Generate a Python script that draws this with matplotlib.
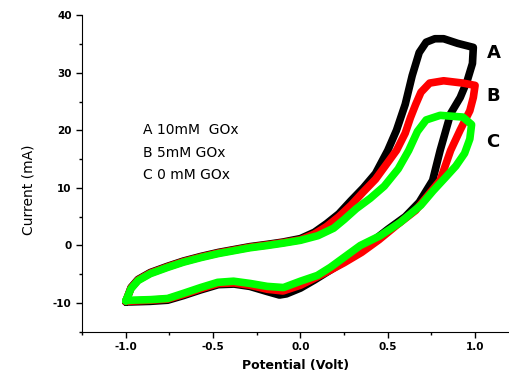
import numpy as np
import matplotlib
matplotlib.use("Agg")
import matplotlib.pyplot as plt
from matplotlib.ticker import MultipleLocator

# loop A, 10 mM GOx (black)
a_x = [-1.0, -0.97, -0.93, -0.86, -0.76, -0.67, -0.57, -0.47, -0.38, -0.29, -0.19, -0.10, 0.0, 0.08, 0.15, 0.22,
       0.29, 0.36, 0.43, 0.50, 0.55, 0.60, 0.64, 0.68, 0.72, 0.77, 0.82, 0.90, 0.99,
       0.985, 0.955, 0.915, 0.86, 0.80, 0.757, 0.68, 0.60, 0.50, 0.42, 0.33, 0.25, 0.17, 0.08, 0.0, -0.08,
       -0.12, -0.19, -0.29, -0.38, -0.47, -0.57, -0.67, -0.76, -0.86, -0.97, -1.0]
a_y = [-9.8, -7.3, -5.9, -4.7, -3.6, -2.7, -1.9, -1.2, -0.7, -0.2, 0.2, 0.6, 1.2, 2.3, 3.8, 5.5,
       7.8, 10.0, 12.5, 16.5, 20.0, 24.5, 29.5, 33.5, 35.3, 35.9, 35.9, 35.1, 34.4,
       31.6, 28.6, 25.7, 22.9, 16.5, 11.3, 7.5, 5.0, 2.8, 0.9, -1.2, -2.8, -4.3, -6.0, -7.4, -8.4,
       -8.6, -8.0, -7.1, -6.7, -6.8, -7.7, -8.7, -9.5, -9.7, -9.8, -9.8]

# loop B, 5 mM GOx (red)
b_x = [-1.0, -0.97, -0.93, -0.86, -0.76, -0.67, -0.57, -0.47, -0.38, -0.29, -0.19, -0.10, 0.0, 0.08, 0.15, 0.22,
       0.29, 0.36, 0.43, 0.49, 0.55, 0.60, 0.63, 0.66, 0.69, 0.74, 0.82, 0.93, 1.0,
       0.99, 0.97, 0.914, 0.86, 0.80, 0.66, 0.55, 0.45, 0.35, 0.25, 0.17, 0.08, 0.0, -0.10,
       -0.19, -0.29, -0.38, -0.47, -0.57, -0.67, -0.76, -0.86, -1.0]
b_y = [-9.7, -7.4, -6.0, -4.8, -3.7, -2.8, -2.0, -1.3, -0.8, -0.3, 0.1, 0.5, 1.0, 2.0, 3.3, 5.0,
       7.0, 9.3, 11.5, 14.0, 16.5, 19.5, 22.2, 24.5, 26.6, 28.2, 28.6, 28.2, 27.8,
       25.7, 23.4, 20.0, 16.5, 11.3, 6.1, 3.5, 1.0, -1.2, -3.0, -4.3, -5.7, -6.9, -7.9,
       -7.6, -6.9, -6.5, -6.6, -7.5, -8.5, -9.3, -9.5, -9.7]

# loop C, 0 mM GOx (green)
c_x = [-1.0, -0.97, -0.93, -0.86, -0.76, -0.67, -0.57, -0.47, -0.38, -0.29, -0.19, -0.10, 0.0, 0.10, 0.19, 0.25,
       0.32, 0.40, 0.48, 0.56, 0.62, 0.67, 0.72, 0.80, 0.93, 0.98,
       0.97, 0.94, 0.89, 0.83, 0.76, 0.69, 0.571, 0.457, 0.343, 0.171, 0.097, 0.0, -0.097,
       -0.19, -0.286, -0.383, -0.474, -0.571, -0.669, -0.76, -0.857, -0.97, -1.0]
c_y = [-9.6, -7.5, -6.1, -4.9, -3.8, -2.9, -2.1, -1.4, -0.9, -0.4, 0.0, 0.4, 0.9, 1.7, 3.0, 4.5,
       6.4, 8.2, 10.3, 13.3, 16.5, 19.8, 21.8, 22.6, 22.3, 21.0,
       18.5, 16.0, 13.8, 11.8, 9.5, 7.0, 4.0, 1.7, 0.0, -3.8, -5.2, -6.2, -7.3,
       -7.1, -6.6, -6.2, -6.4, -7.3, -8.3, -9.2, -9.4, -9.5, -9.6]

legend_lines = ["A 10mM  GOx", "B 5mM GOx", "C 0 mM GOx"]
legend_y = [20.0, 16.1, 12.3]
curve_labels = ["A", "B", "C"]
label_y = [33.5, 25.9, 17.9]

fig = plt.figure(figsize=(5.1, 3.78), dpi=100)
ax = fig.add_axes([0.161, 0.122, 0.839, 0.838])

lw = 5.5
ax.plot(a_x, a_y, color="black", lw=lw, solid_joinstyle="round", solid_capstyle="round")
ax.plot(b_x, b_y, color="#ff0000", lw=lw, solid_joinstyle="round", solid_capstyle="round")
ax.plot(c_x, c_y, color="#00ff00", lw=lw, solid_joinstyle="round", solid_capstyle="round")

ax.set_xlim(-1.25, 1.2)
ax.set_ylim(-15, 40)
ax.spines["top"].set_visible(False)
ax.spines["right"].set_visible(False)
ax.xaxis.set_minor_locator(MultipleLocator(0.25))
ax.yaxis.set_minor_locator(MultipleLocator(5))
ax.tick_params(which="major", direction="out", length=4, width=1, labelsize=7.5)
ax.tick_params(which="minor", direction="out", length=2.5, width=1)
ax.set_xticks([-1.0, -0.5, 0.0, 0.5, 1.0])
ax.set_xticklabels(["-1.0", "-0.5", "0.0", "0.5", "1.0"], fontweight="bold")
ax.set_yticks([-10, 0, 10, 20, 30, 40])
ax.set_yticklabels(["-10", "0", "10", "20", "30", "40"], fontweight="bold")

ax.set_xlabel("Potential (Volt)", fontsize=9, fontweight="bold", labelpad=5)
ax.set_ylabel("Current (mA)", fontsize=10)
ax.yaxis.set_label_coords(-0.11, 0.45)

for t, yy in zip(legend_lines, legend_y):
    ax.text(-0.9, yy, t, fontsize=10, va="center", ha="left")
for lab, yy in zip(curve_labels, label_y):
    ax.text(1.065, yy, lab, fontsize=13, fontweight="bold", va="center", ha="left")

fig.savefig("out.png", dpi=100)
